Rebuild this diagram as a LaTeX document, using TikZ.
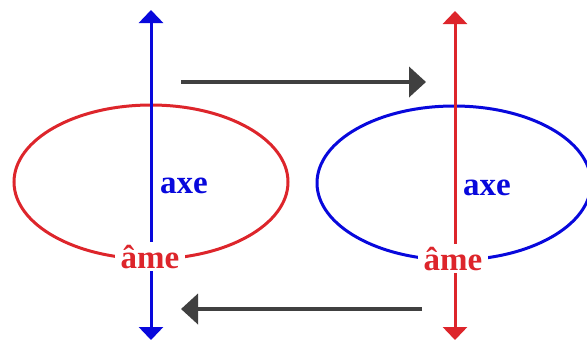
\documentclass[tikz,border=0pt]{standalone}
\usepackage{fontspec}
\setmainfont{Liberation Serif}
\usetikzlibrary{arrows.meta,shapes.geometric}
\definecolor{myred}{RGB}{221,37,43}
\definecolor{myblue}{RGB}{8,8,220}
\definecolor{mygray}{RGB}{64,64,64}
\begin{document}
\begin{tikzpicture}[x=1pt,y=-1pt,
  ring/.style={ellipse, line width=3pt, minimum width=274pt, minimum height=154pt, inner sep=0pt},
  axisline/.style={line width=3pt, {Triangle[length=13pt,width=24pt]}-{Triangle[length=13pt,width=24pt]}},
  flow/.style={draw=mygray, line width=4pt, -{Triangle[length=17pt,width=30pt]}},
  lbl/.style={font=\fontsize{33}{33}\selectfont\bfseries, inner sep=0pt},
  soul/.style={font=\fontsize{33}{33}\selectfont\bfseries, text=myred, fill=white, inner xsep=6pt, inner ysep=3pt}
]
\useasboundingbox (0,0) rectangle (587,341);
\clip (0,0) rectangle (587,341);
% ellipses
\node[ring, draw=myred] (ringL) at (151,182) {};
\node[ring, draw=myblue] (ringR) at (454,183) {};
% axes
\coordinate (botL) at (151,340);
\coordinate (topL) at (151,10);
\coordinate (botR) at (455,340);
\coordinate (topR) at (455,11);
\draw[axisline, draw=myblue, fill=myblue] (botL) -- (topL);
\draw[axisline, draw=myred, fill=myred] (botR) -- (topR);
% flow arrows
\coordinate (fAs) at (181,82);
\coordinate (fAe) at (426,82);
\coordinate (fBs) at (422,309);
\coordinate (fBe) at (181,309);
\draw[flow] (fAs) -- (fAe);
\draw[flow] (fBs) -- (fBe);
% labels
\node[lbl, text=myblue, anchor=base west] (axeL) at (160,193) {axe};
\node[lbl, text=myblue, anchor=base west] (axeR) at (463,195) {axe};
\node[soul, anchor=base] (ameL) at (150,268) {âme};
\node[soul, anchor=base] (ameR) at (453,270) {âme};
\end{tikzpicture}
\end{document}
